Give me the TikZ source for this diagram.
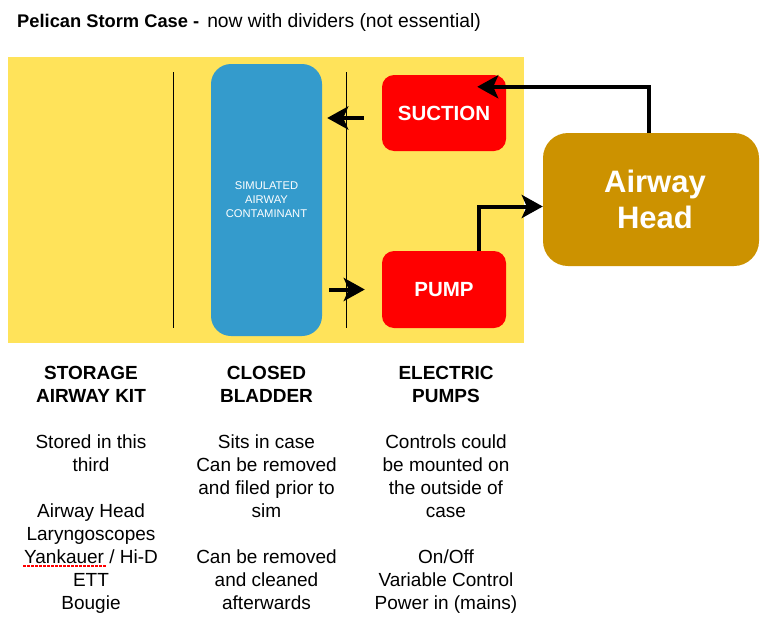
\documentclass[tikz,border=0pt]{standalone}
\usepackage{fontspec}
\setmainfont{Liberation Sans}
\usetikzlibrary{arrows.meta}
\usetikzlibrary{positioning}
\definecolor{caseyellow}{HTML}{FFE35A}
\definecolor{bladderblue}{HTML}{349BCC}
\definecolor{pumpred}{HTML}{FF0000}
\definecolor{headgold}{HTML}{CC9200}

\begin{document}
\begin{tikzpicture}[x=1pt, y=-1pt,
    >={Stealth[length=21pt, width=23pt, inset=5pt]},
    box/.style={rounded corners=12pt, text=white, align=center, inner sep=0pt},
    flow/.style={->, line width=4pt},
    col/.style={align=center, inner sep=0pt, anchor=north, font=\fontsize{19}{23}\selectfont}]
      \useasboundingbox (0,0) rectangle (777,632);

      % the case and its dividers
      \fill[caseyellow] (8,57) rectangle (524,343);
      \draw (173,72) -- (173,328);
      \draw (346,72) -- (346,328);

      \node[anchor=base west, inner sep=0pt, font=\fontsize{19.3}{22}\selectfont] (title) at (17,27)
        {{\fontsize{18.3}{22}\selectfont\bfseries Pelican Storm Case -}\hspace{8pt}now with dividers (not essential)};

      \node[box, fill=bladderblue, rounded corners=20pt, minimum width=111pt, minimum height=272pt,
        font=\fontsize{11.2}{14}\selectfont] (bladder) at (266.5,200) {SIMULATED\\AIRWAY\\CONTAMINANT};
      \node[box, fill=pumpred, minimum width=124pt, minimum height=76pt,
        font=\fontsize{20.5}{24}\selectfont\bfseries] (suction) at (444,113) {SUCTION};
      \node[box, fill=pumpred, minimum width=124pt, minimum height=77pt,
        font=\fontsize{20.5}{24}\selectfont\bfseries] (pump) at (444,289.5) {PUMP};
      \node[box, fill=headgold, rounded corners=25pt, minimum width=216pt, minimum height=133pt,
        font=\fontsize{31}{36}\selectfont\bfseries] (head) at (651,199.5) {\hspace*{8pt}Airway\\\hspace*{8pt}Head};

      \draw[flow, shorten <=18pt, shorten >=5pt] ([yshift=-5pt]suction.west) -- ([yshift=-5pt]suction.west -| bladder.east);
      \draw[flow, shorten <=7pt, shorten >=17pt] (pump.west -| bladder.east) -- (pump.west);
      \draw[flow] ([xshift=-2pt]head.north) |- ([xshift=-29pt, yshift=-12pt]suction.north east);
      \draw[flow] ([xshift=-27pt]pump.north east) |- ([yshift=-7pt]head.west);

      % the three columns
      \node[col] (storage) at (91,366) {\textbf{STORAGE}\\\textbf{AIRWAY KIT}\\[23pt]
        Stored in this\\third\\[23pt]
        Airway Head\\Laryngoscopes\\Yankauer / Hi-D\\ETT\\Bougie};
      \node[col] (closed) at (266.5,366) {\textbf{CLOSED}\\\textbf{BLADDER}\\[23pt]
        Sits in case\\Can be removed\\and filed prior to\\sim\\[23pt]
        Can be removed\\and cleaned\\afterwards};
      \node[col] (electric) at (446,366) {\textbf{ELECTRIC}\\\textbf{PUMPS}\\[23pt]
        Controls could\\be mounted on\\the outside of\\case\\[23pt]
        On/Off\\Variable Control\\Power in (mains)};

      \draw[red, line width=1.5pt, dash pattern=on 2.5pt off 1.5pt] (23,566) -- (106,566);
\end{tikzpicture}
\end{document}
